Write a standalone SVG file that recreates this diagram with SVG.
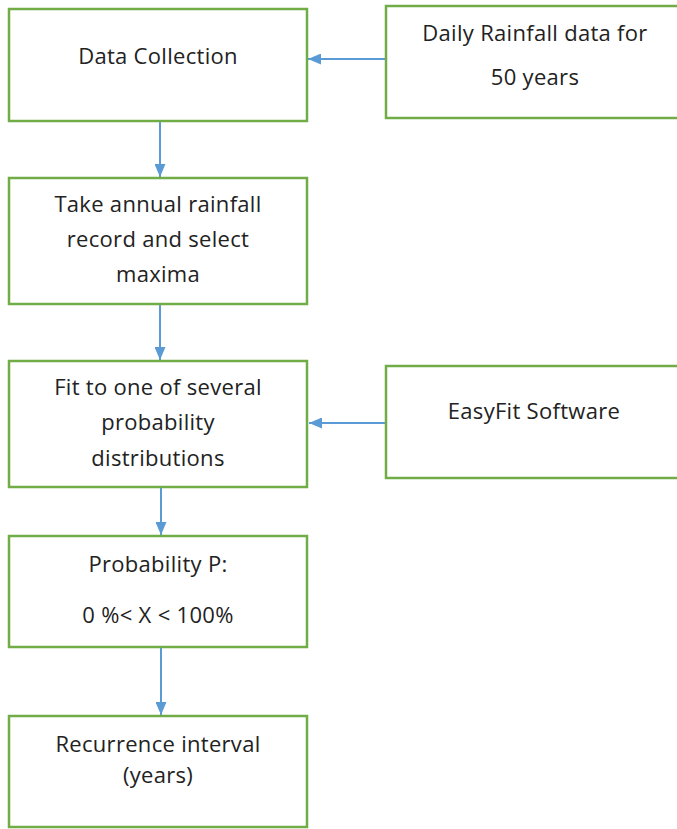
<svg xmlns="http://www.w3.org/2000/svg" width="677" height="829" viewBox="0 0 677 829">
<style>
.box{fill:#fff;stroke:#70AD47;stroke-width:2.5}
.t{font-family:"Open Sans","Liberation Sans",sans-serif;font-size:22px;fill:#222;text-anchor:middle;letter-spacing:0.3px}
.c{stroke:#5B9BD5;stroke-width:2;fill:none;marker-end:url(#ah)}
</style>
<defs>
<marker id="ah" markerUnits="userSpaceOnUse" markerWidth="14" markerHeight="11" refX="13" refY="5.5" orient="auto">
<path d="M0,0 L13,5.5 L0,11 z" fill="#5B9BD5"/>
</marker>
</defs>
<rect width="677" height="829" fill="#fff"/>
<g id="connectors">
<line class="c" x1="386" y1="59" x2="308" y2="59"/>
<line class="c" x1="160" y1="122" x2="160" y2="177"/>
<line class="c" x1="160" y1="305" x2="160" y2="360"/>
<line class="c" x1="386" y1="423" x2="309" y2="423"/>
<line class="c" x1="161" y1="488" x2="161" y2="535"/>
<line class="c" x1="161" y1="648" x2="161" y2="715"/>
</g>
<g id="data-collection">
<rect class="box" x="9" y="9" width="298" height="112"/>
<text class="t" x="158" y="64">Data Collection</text>
</g>
<g id="daily-rainfall">
<rect class="box" x="386" y="6" width="300" height="112"/>
<text class="t" x="535" y="41">Daily Rainfall data for</text>
<text class="t" x="535" y="85">50 years</text>
</g>
<g id="annual-maxima">
<rect class="box" x="9" y="178" width="298" height="126"/>
<text class="t" x="158" y="212">Take annual rainfall</text>
<text class="t" x="158" y="247">record and select</text>
<text class="t" x="158" y="282">maxima</text>
</g>
<g id="fit-distributions">
<rect class="box" x="9" y="361" width="298" height="126"/>
<text class="t" x="158" y="395">Fit to one of several</text>
<text class="t" x="158" y="430">probability</text>
<text class="t" x="158" y="466">distributions</text>
</g>
<g id="easyfit">
<rect class="box" x="386" y="366" width="300" height="112"/>
<text class="t" x="534" y="419">EasyFit Software</text>
</g>
<g id="probability">
<rect class="box" x="9" y="536" width="298" height="111"/>
<text class="t" x="158" y="572">Probability P:</text>
<text class="t" x="158" y="623">0 %&lt; X &lt; 100%</text>
</g>
<g id="recurrence">
<rect class="box" x="9" y="716" width="298" height="111"/>
<text class="t" x="158" y="752">Recurrence interval</text>
<text class="t" x="158" y="783">(years)</text>
</g>
</svg>
